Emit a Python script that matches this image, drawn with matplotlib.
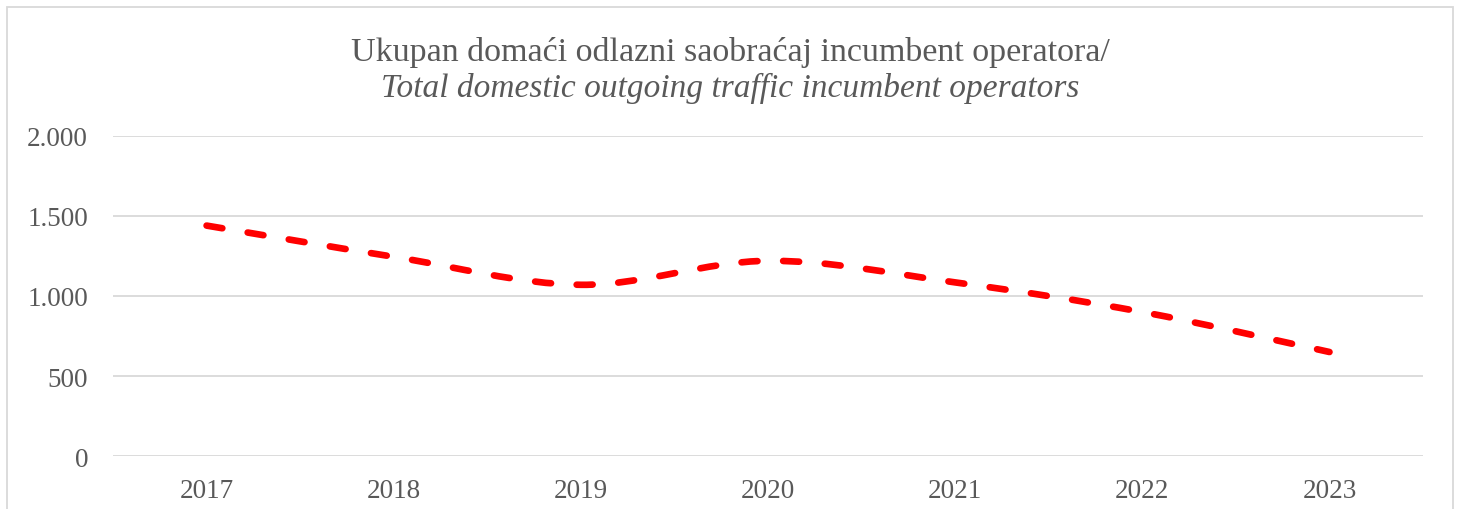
import matplotlib.pyplot as plt
from matplotlib.path import Path
from matplotlib.patches import PathPatch, Rectangle
from matplotlib.ticker import FuncFormatter

# podaci
years = ["2017", "2018", "2019", "2020", "2021", "2022", "2023"]
traffic = [1440, 1245, 1070, 1220, 1085, 900, 650]

title_sr = "Ukupan domaći odlazni saobraćaj incumbent operatora/"
title_en = "Total domestic outgoing traffic incumbent operators"

plt.rcParams['font.family'] = ['Liberation Serif', 'DejaVu Serif']
plt.rcParams['lines.scale_dashes'] = False
text_col = '#595959'

fig = plt.figure(figsize=(14.6, 5.1), dpi=100)
ax = fig.add_axes([0.0774, 0.1039, 0.8973, 0.6275])

# smooth line (Excel style) - bezier through the data points
xs = list(range(len(years)))
verts = [(xs[0], traffic[0])]
codes = [Path.MOVETO]
t = 1 / 6
for i in range(len(xs) - 1):
    x0, y0 = xs[max(i - 1, 0)], traffic[max(i - 1, 0)]
    x1, y1 = xs[i], traffic[i]
    x2, y2 = xs[i + 1], traffic[i + 1]
    x3, y3 = xs[min(i + 2, len(xs) - 1)], traffic[min(i + 2, len(xs) - 1)]
    verts += [(x1 + (x2 - x0) * t, y1 + (y2 - y0) * t),
              (x2 - (x3 - x1) * t, y2 - (y3 - y1) * t),
              (x2, y2)]
    codes += [Path.CURVE4] * 3
curve = PathPatch(Path(verts, codes), facecolor='none', edgecolor='#ff0000',
                  linewidth=4.8, linestyle=(0, (11.5, 18.5)), capstyle='round')
ax.add_patch(curve)

ax.set_xlim(-0.5, len(years) - 0.5)
ax.set_ylim(0, 2000)
ax.set_xticks(xs)
ax.set_xticklabels(years)
ax.set_yticks([0, 500, 1000, 1500, 2000])
ax.yaxis.set_major_formatter(FuncFormatter(lambda v, p: f"{int(v):,}".replace(",", ".")))
ax.grid(axis='y', color='#d9d9d9', linewidth=1.3)
ax.set_axisbelow(True)
for s in ax.spines.values():
    s.set_visible(False)
ax.tick_params(length=0, labelsize=19.5, colors=text_col)
ax.tick_params(axis='y', pad=18)
ax.tick_params(axis='x', pad=16)

fig.text(0.5, 0.897, title_sr, ha='center', va='center', fontsize=24.5, color=text_col)
fig.text(0.5, 0.826, title_en, ha='center', va='center', fontsize=24,
         color=text_col, style='italic')

# okvir
fig.patches.append(Rectangle((7 / 1460, -0.05), 1446 / 1460, 1 - 8 / 510 + 0.05,
                             transform=fig.transFigure, fill=False,
                             edgecolor='#d9d9d9', linewidth=1.3))

fig.savefig("out.png", dpi=100)
